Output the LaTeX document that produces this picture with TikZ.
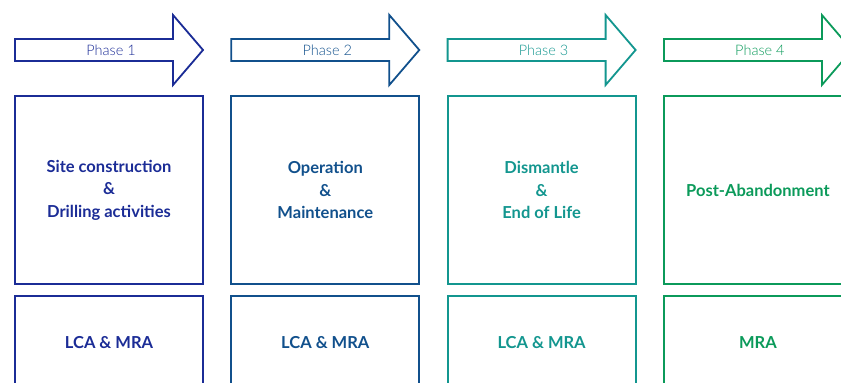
\documentclass[tikz,border=0pt]{standalone}
\usepackage{fontspec}
\setmainfont{Lato}
\newfontfamily\phasefont{Lato Light}
\usetikzlibrary{positioning}

\definecolor{phaseA}{HTML}{1B2C96}
\definecolor{phaseB}{HTML}{11508C}
\definecolor{phaseC}{HTML}{13968F}
\definecolor{phaseD}{HTML}{0B9A5A}

\tikzset{
  stagebox/.style={draw=#1,line width=1.8pt,outer sep=0pt,minimum width=188pt,
    minimum height=188pt,text=#1,align=center,anchor=north west,
    font=\bfseries\fontsize{16.5}{22.5}\selectfont},
  toolbox/.style={stagebox=#1,minimum height=94pt,anchor=north},
  phasearrow/.style={draw=#1,line width=1.8pt,line join=miter},
  phaselabel/.style={text=#1,font=\phasefont\fontsize{14.5}{16}\selectfont}
}

\begin{document}
\begin{tikzpicture}[x=1pt,y=-1pt]
  \useasboundingbox (0,0) rectangle (841,383);
  \clip (0,0) rectangle (841,383);
  % one column per phase
  \foreach \i/\col/\stage/\tool in {
      1/phaseA/Site construction\\\&\\Drilling activities/LCA \& MRA,
      2/phaseB/Operation\\\&\\Maintenance/LCA \& MRA,
      3/phaseC/Dismantle\\\&\\End of Life/LCA \& MRA,
      4/phaseD/Post-Abandonment/MRA}
  {
    \pgfmathsetmacro\x{15+216.3*(\i-1)}
    \draw[phasearrow=\col] (\x,39) -- ++(158,0) -- ++(0,-24) -- ++(30,35)
      -- ++(-30,35) -- ++(0,-24) -- (\x,61) -- cycle;
    \node[phaselabel=\col] (phase\i) at (\x+96,50) {Phase \i};
    \node[stagebox=\col] (stage\i) at (\x,96) {\stage};
    \node[toolbox=\col,below=12pt of stage\i] (tool\i) {\tool};
  }
\end{tikzpicture}
\end{document}
